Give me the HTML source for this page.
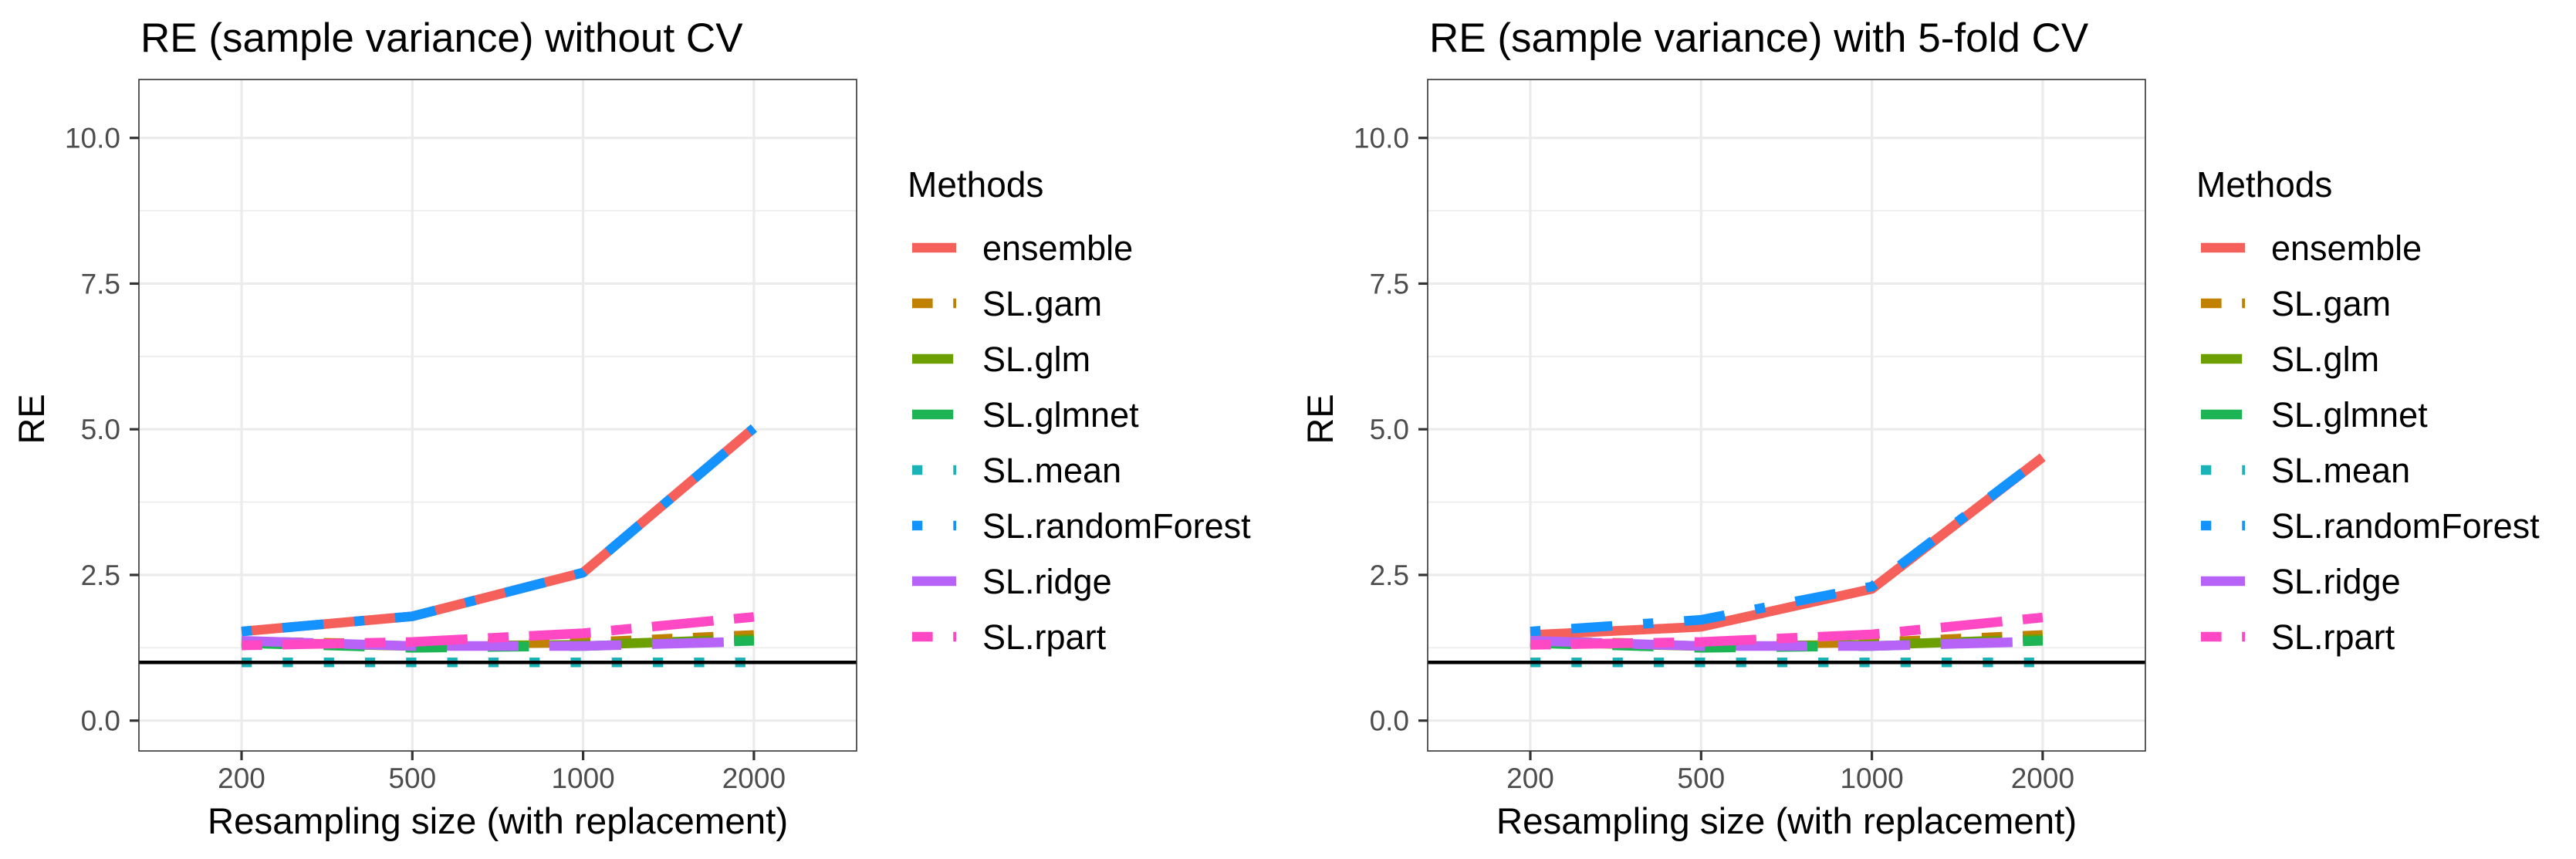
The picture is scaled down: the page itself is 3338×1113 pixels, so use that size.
<!DOCTYPE html>
<html><head><meta charset="utf-8">
<style>
html,body{margin:0;padding:0;background:#fff;}
svg{display:block;font-family:"Liberation Sans",Arial,sans-serif;}
</style></head>
<body>
<svg id="chart" width="3338" height="1113" viewBox="0 0 3338 1113" xmlns="http://www.w3.org/2000/svg"></svg>
<script>
const categories = ["200","500","1000","2000"];
const yTicks = [0, 2.5, 5, 7.5, 10];
const yTickLabels = ["0.0","2.5","5.0","7.5","10.0"];
const yMinor = [1.25, 3.75, 6.25, 8.75];
const methods = ["ensemble","SL.gam","SL.glm","SL.glmnet","SL.mean","SL.randomForest","SL.ridge","SL.rpart"];
const refLine = 1.0;

// panel 1: without CV
const p1_ensemble = [1.53, 1.79, 2.54, 5.02];
const p1_gam = [1.36, 1.31, 1.34, 1.47];
const p1_glm = [1.35, 1.28, 1.30, 1.40];
const p1_glmnet = [1.33, 1.25, 1.28, 1.37];
const p1_mean = [1.0, 1.0, 1.0, 1.0];
const p1_randomForest = [1.53, 1.79, 2.54, 5.02];
const p1_ridge = [1.37, 1.28, 1.28, 1.36];
const p1_rpart = [1.29, 1.35, 1.50, 1.78];
// panel 2: with 5-fold CV
const p2_ensemble = [1.47, 1.61, 2.26, 4.52];
const p2_gam = [1.36, 1.31, 1.34, 1.47];
const p2_glm = [1.35, 1.28, 1.30, 1.40];
const p2_glmnet = [1.33, 1.25, 1.28, 1.37];
const p2_mean = [1.0, 1.0, 1.0, 1.0];
const p2_randomForest = [1.53, 1.73, 2.30, 4.52];
const p2_ridge = [1.37, 1.28, 1.28, 1.36];
const p2_rpart = [1.30, 1.35, 1.48, 1.77];

const colors = ["#F5605A","#C08000","#6BA000","#1CB454","#1BB3B8","#1493FF","#B863F7","#FF48C4"];
const dashes = ["", "26.6 26.6", "53.2 26.6", "53.2 53.2", "13.3 40", "13.3 40 53.2 40", "93 40", "26.6 26.6 80 26.6"];

const NS = "http://www.w3.org/2000/svg";
const svg = document.getElementById('chart');
function mk(tag, attrs, parent){ const e=document.createElementNS(NS,tag); for(const k in attrs) e.setAttribute(k,attrs[k]); (parent||svg).appendChild(e); return e; }

function drawPanel(off, title, series, idx){
  const L=180+off, R=1110+off, T=103, B=973;
  const xs = i => 313 + off + i*221.3;
  const ys = v => 933.7 - v*75.5;
  const g = mk('g',{});
  
  
  const t = mk('text',{x:182+off,y:67,'font-size':53,fill:'#000'},g);
  t.textContent = title;
  
  
  yMinor.forEach(v=>{ const l=mk('line',{x1:L,x2:R,y1:ys(v),y2:ys(v),stroke:'#ebebeb','stroke-width':1.6},g);
      });
  yTicks.forEach(v=>{ const l=mk('line',{x1:L,x2:R,y1:ys(v),y2:ys(v),stroke:'#ebebeb','stroke-width':3.2},g);
      });
  categories.forEach((c,i)=>{ const l=mk('line',{x1:xs(i),x2:xs(i),y1:T,y2:B,stroke:'#ebebeb','stroke-width':3.2},g);
      });
  series.forEach((vals,s)=>{
    const pts = vals.map((v,i)=>xs(i)+','+ys(v)).join(' ');
    const a={points:pts,fill:'none',stroke:colors[s],'stroke-width':12.5,'stroke-linejoin':'round','stroke-linecap':'butt'};
    if(dashes[s]) a['stroke-dasharray']=dashes[s];
    const p=mk('polyline',a,g);
    
    
  });
  const h=mk('line',{x1:L,x2:R,y1:ys(refLine),y2:ys(refLine),stroke:'#000','stroke-width':4.5},g);
   
  const bd=mk('rect',{x:L,y:T,width:R-L,height:B-T,fill:'none',stroke:'#333','stroke-width':1.6},g);
   
  yTicks.forEach((v,i)=>{
    const tk=mk('line',{x1:168+off,x2:L,y1:ys(v),y2:ys(v),stroke:'#333','stroke-width':3.2},g);
     
    const tl=mk('text',{x:156+off,y:ys(v)+13,'font-size':37,fill:'#4d4d4d','text-anchor':'end'},g);
    tl.textContent=yTickLabels[i];
     
  });
  categories.forEach((c,i)=>{
    const tk=mk('line',{x1:xs(i),x2:xs(i),y1:B,y2:B+12,stroke:'#333','stroke-width':3.2},g);
     
    const tl=mk('text',{x:xs(i),y:1021,'font-size':37,fill:'#4d4d4d','text-anchor':'middle'},g);
    tl.textContent=c;
     
  });
  const xt=mk('text',{x:(L+R)/2,y:1080,'font-size':47.5,fill:'#000','text-anchor':'middle'},g);
  xt.textContent='Resampling size (with replacement)';
   
  const yt=mk('text',{x:0,y:0,'font-size':47,fill:'#000','text-anchor':'middle',transform:'translate('+(57+off)+',543) rotate(-90)'},g);
  yt.textContent='RE';
   
  const lg=mk('g',{},g);
   
  const lt=mk('text',{x:1176+off,y:255,'font-size':46,fill:'#000'},lg);
  lt.textContent='Methods';
   
  methods.forEach((m,s)=>{
    const yy=321+s*72;
    const a={x1:1182+off,x2:1239+off,y1:yy,y2:yy,stroke:colors[s],'stroke-width':12.5,'stroke-linecap':'butt'};
    if(dashes[s]) a['stroke-dasharray']=dashes[s];
    const k=mk('line',a,lg);
     
    const tx=mk('text',{x:1273+off,y:yy+16,'font-size':45,fill:'#000'},lg);
    tx.textContent=m;
     
  });
}
drawPanel(0,'RE (sample variance) without CV',[p1_ensemble,p1_gam,p1_glm,p1_glmnet,p1_mean,p1_randomForest,p1_ridge,p1_rpart],1);
drawPanel(1670,'RE (sample variance) with 5-fold CV',[p2_ensemble,p2_gam,p2_glm,p2_glmnet,p2_mean,p2_randomForest,p2_ridge,p2_rpart],2);
</script>
</body></html>
